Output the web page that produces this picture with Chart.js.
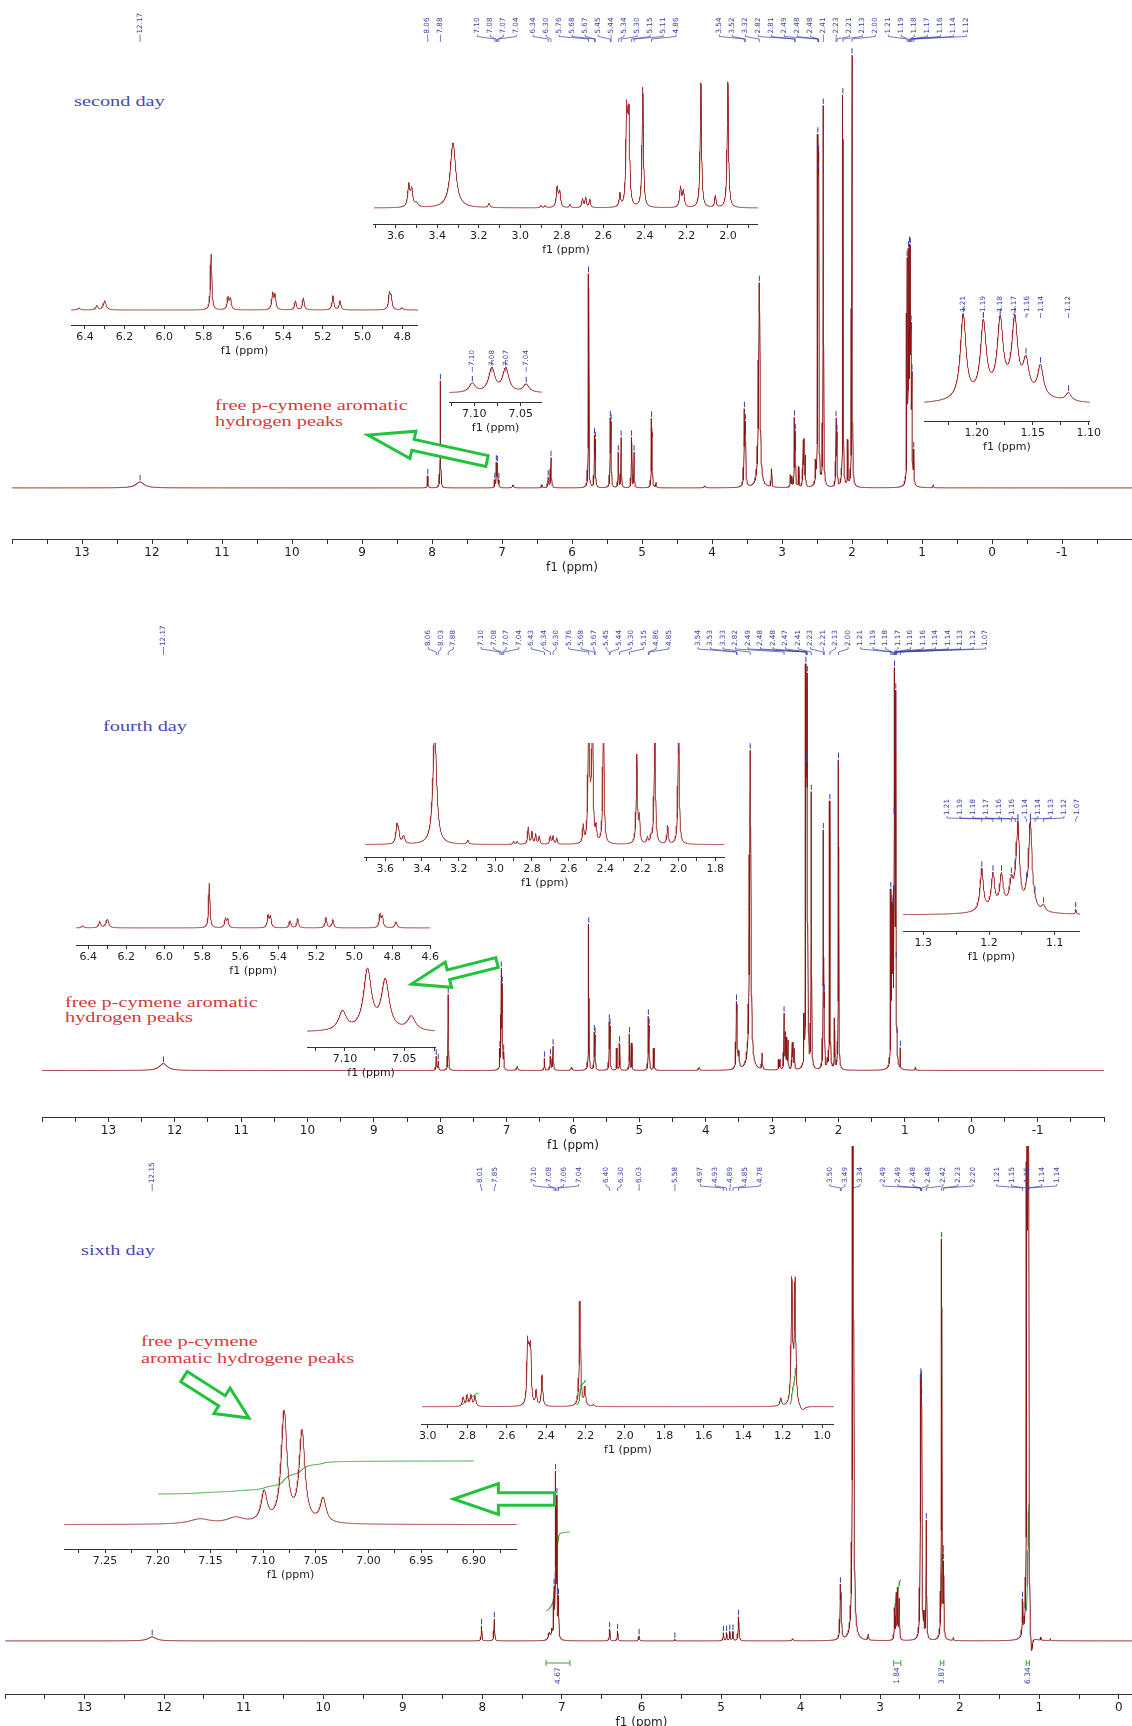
<!DOCTYPE html>
<html lang="en">
<head>
<meta charset="utf-8">
<title>1H NMR – second, fourth and sixth day</title>
<script src="https://cdn.jsdelivr.net/npm/chart.js@4.4.1/dist/chart.umd.min.js"></script>
<style>
  html, body { margin: 0; padding: 0; background: #ffffff; }
  #stage { position: relative; width: 1132px; height: 1726px; overflow: hidden; background: #ffffff; }
  .note { position: absolute; white-space: nowrap; font-family: 'Liberation Serif', 'DejaVu Serif', serif;
          font-size: 14px; line-height: 16px; transform: scaleX(1.45); transform-origin: 0 50%; }
  .day { color: #4848b4; }
  .free { color: #d43a3a; }
</style>
</head>
<body>
<div id="stage">
  <div class="note day" style="left:74px;top:94px">second day</div>
  <div class="note free" style="left:215px;top:398px">free p-cymene aromatic</div>
  <div class="note free" style="left:215px;top:414px">hydrogen peaks</div>
  <div class="note day" style="left:103px;top:719px">fourth day</div>
  <div class="note free" style="left:65px;top:995px">free p-cymene aromatic</div>
  <div class="note free" style="left:65px;top:1010px">hydrogen peaks</div>
  <div class="note day" style="left:81px;top:1243px">sixth day</div>
  <div class="note free" style="left:141px;top:1334px">free p-cymene</div>
  <div class="note free" style="left:141px;top:1351px">aromatic hydrogene peaks</div>
</div>
<script>
// ---------------------------------------------------------------------------
// Peak tables: [shift (ppm), intensity, half-width (ppm), picked label 1/0]
// ---------------------------------------------------------------------------

// second day – full spectrum
const day2Peaks = [
  [12.17, 6, 0.07, 1], [8.06, 12, 0.005, 1], [7.88, 107, 0.004, 1],
  [7.102, 7, 0.004, 1], [7.081, 24, 0.004, 1], [7.066, 23, 0.004, 1], [7.044, 7, 0.004, 1],
  [6.84, 3, 0.01, 0], [6.43, 3, 0.006, 0], [6.34, 10, 0.006, 1], [6.30, 30, 0.006, 1],
  [5.763, 214, 0.004, 1], [5.678, 48, 0.004, 1], [5.666, 44, 0.004, 1],
  [5.453, 64, 0.004, 1], [5.441, 60, 0.004, 1], [5.338, 35, 0.004, 1], [5.298, 50, 0.004, 1],
  [5.149, 50, 0.004, 1], [5.113, 35, 0.004, 1], [4.864, 62, 0.004, 1], [4.855, 45, 0.004, 0],
  [4.80, 5, 0.005, 0], [4.10, 2, 0.01, 0],
  [3.537, 70, 0.006, 1], [3.523, 55, 0.006, 1], [3.324, 205, 0.012, 1], [3.15, 18, 0.005, 0],
  [2.88, 12, 0.004, 0], [2.86, 10, 0.004, 0], [2.822, 65, 0.004, 1], [2.810, 50, 0.004, 1],
  [2.76, 20, 0.004, 0], [2.70, 40, 0.004, 0], [2.685, 45, 0.004, 0], [2.665, 30, 0.004, 0],
  [2.52, 20, 0.004, 0], [2.488, 280, 0.004, 1], [2.482, 150, 0.004, 1], [2.476, 260, 0.004, 1],
  [2.41, 380, 0.004, 1], [2.228, 65, 0.004, 1], [2.214, 50, 0.004, 1], [2.13, 392, 0.004, 1],
  [2.06, 45, 0.004, 0], [2.00, 432, 0.004, 1],
  [1.212, 215, 0.004, 1], [1.194, 210, 0.004, 1], [1.179, 205, 0.004, 1], [1.166, 200, 0.004, 1],
  [1.156, 120, 0.004, 1], [1.143, 95, 0.004, 1], [1.118, 32, 0.004, 1], [0.84, 3, 0.005, 0]
];
// second day – expansions
const day2Aliphatic = [
  [3.537, 22, 0.006, 0], [3.523, 17, 0.006, 0], [3.50, 4, 0.01, 0], [3.324, 65, 0.016, 0],
  [3.15, 4, 0.005, 0], [2.90, 2, 0.004, 0], [2.88, 2, 0.004, 0],
  [2.822, 20, 0.005, 0], [2.810, 15, 0.005, 0], [2.76, 3, 0.004, 0], [2.70, 9, 0.004, 0],
  [2.685, 10, 0.004, 0], [2.665, 8, 0.004, 0], [2.52, 13, 0.004, 0],
  [2.488, 85, 0.004, 0], [2.482, 45, 0.004, 0], [2.476, 80, 0.004, 0], [2.41, 120, 0.004, 0],
  [2.228, 20, 0.005, 0], [2.214, 16, 0.005, 0], [2.13, 125, 0.004, 0], [2.06, 12, 0.004, 0],
  [2.00, 126, 0.004, 0]
];
const day2Olefinic = [
  [6.43, 2, 0.006, 0], [6.34, 4, 0.006, 0], [6.30, 9, 0.008, 0], [5.763, 56, 0.004, 0],
  [5.678, 12, 0.005, 0], [5.666, 11, 0.005, 0], [5.453, 16, 0.005, 0], [5.441, 14, 0.005, 0],
  [5.338, 9, 0.005, 0], [5.298, 12, 0.005, 0], [5.149, 14, 0.005, 0], [5.113, 9, 0.005, 0],
  [4.864, 16, 0.005, 0], [4.855, 12, 0.005, 0], [4.80, 2, 0.006, 0]
];
const day2Aromatic = [
  [7.102, 9, 0.004, 1], [7.081, 24, 0.004, 1], [7.066, 24, 0.004, 1], [7.044, 8, 0.004, 1]
];
const day2Methyl = [
  [1.212, 84, 0.003, 1], [1.194, 72, 0.003, 1], [1.179, 70, 0.003, 1], [1.166, 70, 0.003, 1],
  [1.156, 30, 0.003, 1], [1.143, 30, 0.003, 1], [1.118, 8, 0.003, 1], [1.17, 13, 0.03, 0]
];

// fourth day – full spectrum
const day4Peaks = [
  [12.17, 7, 0.07, 1], [8.06, 14, 0.005, 1], [8.03, 9, 0.005, 1], [7.88, 76, 0.004, 1],
  [7.102, 18, 0.004, 1], [7.081, 96, 0.004, 1], [7.066, 80, 0.004, 1], [7.044, 15, 0.004, 1],
  [6.84, 4, 0.01, 0], [6.43, 12, 0.005, 1], [6.34, 14, 0.006, 1], [6.30, 24, 0.006, 1],
  [6.02, 3, 0.01, 0], [5.763, 146, 0.004, 1], [5.678, 35, 0.004, 1], [5.666, 32, 0.004, 1],
  [5.453, 45, 0.004, 1], [5.441, 40, 0.004, 1], [5.338, 22, 0.004, 0], [5.298, 27, 0.004, 1],
  [5.149, 36, 0.004, 1], [5.113, 27, 0.004, 0], [4.864, 50, 0.004, 1], [4.852, 40, 0.004, 1],
  [4.78, 22, 0.005, 0], [4.10, 3, 0.01, 0],
  [3.537, 55, 0.006, 1], [3.528, 40, 0.006, 1], [3.50, 15, 0.008, 0], [3.33, 320, 0.012, 1],
  [3.15, 16, 0.005, 0], [2.90, 10, 0.004, 0], [2.88, 10, 0.004, 0],
  [2.82, 55, 0.004, 1], [2.80, 35, 0.004, 0], [2.78, 30, 0.004, 0], [2.76, 28, 0.004, 0],
  [2.70, 25, 0.004, 0], [2.685, 25, 0.004, 0], [2.665, 20, 0.004, 0], [2.52, 45, 0.004, 0],
  [2.491, 350, 0.004, 1], [2.483, 150, 0.004, 1], [2.478, 150, 0.004, 1], [2.470, 340, 0.004, 1],
  [2.45, 14, 0.004, 0], [2.41, 275, 0.004, 1], [2.228, 235, 0.004, 1], [2.214, 60, 0.004, 1],
  [2.17, 8, 0.004, 0], [2.15, 8, 0.004, 0], [2.13, 268, 0.004, 1], [2.06, 50, 0.004, 0],
  [2.00, 310, 0.004, 1],
  [1.211, 168, 0.004, 1], [1.194, 140, 0.004, 1], [1.181, 130, 0.004, 1], [1.166, 100, 0.004, 1],
  [1.160, 30, 0.004, 1], [1.156, 350, 0.004, 1], [1.143, 40, 0.004, 1], [1.137, 345, 0.004, 1],
  [1.130, 10, 0.004, 1], [1.117, 15, 0.004, 1], [1.068, 20, 0.001, 1], [0.84, 3, 0.005, 0]
];
// fourth day – expansions
const day4Aliphatic = [
  [3.537, 17, 0.006, 0], [3.528, 12, 0.006, 0], [3.50, 8, 0.008, 0], [3.33, 115, 0.012, 0],
  [3.15, 4, 0.005, 0], [2.90, 3, 0.004, 0], [2.88, 3, 0.004, 0],
  [2.82, 17, 0.004, 0], [2.80, 12, 0.004, 0], [2.78, 10, 0.004, 0], [2.76, 8, 0.004, 0],
  [2.70, 8, 0.004, 0], [2.685, 8, 0.004, 0], [2.665, 6, 0.004, 0], [2.52, 17, 0.004, 0],
  [2.491, 130, 0.004, 0], [2.483, 20, 0.004, 0], [2.478, 20, 0.004, 0], [2.470, 130, 0.004, 0],
  [2.45, 14, 0.004, 0], [2.41, 130, 0.004, 0], [2.228, 88, 0.004, 0], [2.214, 25, 0.004, 0],
  [2.17, 6, 0.004, 0], [2.15, 6, 0.004, 0], [2.13, 130, 0.004, 0], [2.06, 18, 0.004, 0],
  [2.00, 130, 0.004, 0]
];
const day4Olefinic = [
  [6.43, 2, 0.006, 0], [6.34, 6, 0.006, 0], [6.30, 8.5, 0.008, 0], [5.763, 44.6, 0.004, 0],
  [5.678, 9, 0.005, 0], [5.666, 8, 0.005, 0], [5.453, 12, 0.005, 0], [5.441, 11, 0.005, 0],
  [5.338, 7, 0.005, 0], [5.298, 9, 0.005, 0], [5.149, 10, 0.005, 0], [5.113, 8, 0.005, 0],
  [4.864, 13, 0.005, 0], [4.852, 11, 0.005, 0], [4.78, 6, 0.006, 0]
];
const day4Aromatic = [
  [7.102, 19, 0.004, 0], [7.081, 60, 0.004, 0], [7.066, 49, 0.004, 0], [7.044, 14, 0.004, 0]
];
const day4Methyl = [
  [1.211, 42, 0.003, 1], [1.194, 34, 0.003, 1], [1.181, 31, 0.003, 1], [1.166, 22, 0.003, 1],
  [1.160, 6, 0.003, 1], [1.156, 80, 0.003, 1], [1.143, 8, 0.003, 1], [1.137, 86, 0.003, 1],
  [1.130, 3, 0.003, 1], [1.117, 6, 0.003, 1], [1.068, 5, 0.0008, 1], [1.17, 8, 0.03, 0]
];

// sixth day – full spectrum
const day6Peaks = [
  [12.15, 4, 0.06, 1], [8.01, 15, 0.005, 1], [7.85, 22, 0.005, 1],
  [7.16, 7, 0.012, 0], [7.126, 9, 0.01, 0],
  [7.099, 45, 0.004, 1], [7.080, 160, 0.004, 1], [7.063, 135, 0.004, 1], [7.043, 38, 0.004, 1],
  [6.40, 12, 0.005, 1], [6.30, 10, 0.005, 1], [6.03, 5, 0.006, 1], [5.58, 1.5, 0.005, 1],
  [4.97, 8, 0.005, 1], [4.93, 8, 0.005, 1], [4.89, 9, 0.005, 1], [4.85, 9, 0.005, 1],
  [4.78, 24, 0.006, 1], [4.10, 2, 0.01, 0],
  [3.50, 48, 0.006, 1], [3.49, 28, 0.006, 1], [3.34, 900, 0.006, 1], [3.15, 6, 0.005, 0],
  [2.82, 30, 0.004, 0], [2.80, 45, 0.004, 0], [2.78, 50, 0.004, 0], [2.76, 40, 0.004, 0],
  [2.494, 195, 0.004, 1], [2.488, 120, 0.004, 1], [2.484, 120, 0.004, 1], [2.478, 180, 0.004, 1],
  [2.45, 20, 0.004, 0], [2.42, 118, 0.004, 1], [2.228, 400, 0.004, 1], [2.203, 70, 0.004, 1],
  [2.08, 3, 0.004, 0], [1.21, 35, 0.005, 1],
  [1.154, 900, 0.004, 1], [1.148, 60, 0.004, 1], [1.143, 60, 0.004, 1], [1.137, 900, 0.004, 1],
  [1.10, -25, 0.015, 0], [0.98, 3, 0.003, 0], [0.86, 2, 0.003, 0]
];
// sixth day – expansions
const day6Aliphatic = [
  [2.82, 9, 0.005, 0], [2.80, 11, 0.005, 0], [2.78, 11, 0.005, 0], [2.76, 10, 0.005, 0],
  [2.494, 55, 0.004, 0], [2.488, 27, 0.004, 0], [2.484, 27, 0.004, 0], [2.478, 50, 0.004, 0],
  [2.45, 15, 0.004, 0], [2.42, 31, 0.004, 0], [2.228, 105, 0.004, 0], [2.203, 18, 0.004, 0],
  [2.16, 2, 0.004, 0], [1.21, 8, 0.005, 0],
  [1.154, 120, 0.004, 0], [1.148, 10, 0.004, 0], [1.143, 10, 0.004, 0], [1.137, 120, 0.004, 0],
  [1.10, -5, 0.015, 0]
];
const day6Aromatic = [
  [7.16, 5, 0.012, 0], [7.126, 6, 0.01, 0], [7.099, 30, 0.0033, 0], [7.080, 110, 0.0033, 0],
  [7.063, 90, 0.0033, 0], [7.043, 24, 0.0033, 0]
];
// integration regions: [from ppm, to ppm, integral]
const day6Integrals = [[7.20, 6.90, 4.67], [2.83, 2.74, 1.84], [2.245, 2.20, 3.87], [1.165, 1.125, 6.34]];

// ---------------------------------------------------------------------------
// drawing helpers
// ---------------------------------------------------------------------------
const FONT = "'DejaVu Sans', 'Liberation Sans', sans-serif";
const BLUE = '#3b3fa3';
const MAIN_RED = '#8a1616';
const INSET_RED = '#a03030';
const ARROW_GREEN = '#23c23c';
const INTEGRAL_GREEN = '#3aa53a';
const stage = document.getElementById('stage');

// edge: whether a labelled tick sitting exactly on an axis end keeps its label
const MAIN_AXIS = { step: 0.5, major: 1, dec: 0, font: 12, tickLen: 5, edge: false };
const TENTH_AXIS = { step: 0.1, major: 0.2, dec: 1, font: 11, tickLen: 4, edge: true };
const FINE_AXIS = { step: 0.025, major: 0.05, dec: 2, font: 11, tickLen: 4, edge: true };
const HALF_TENTH_AXIS = { step: 0.05, major: 0.1, dec: 1, font: 11, tickLen: 4, edge: true };

function lineShape(peaks, x) {
  let s = 0;
  for (const [p, h, w] of peaks) { const d = x - p; s += h * w * w / (d * d + w * w); }
  return s;
}

function sampleSpectrum(peaks, xMin, xMax, n) {
  const xs = [];
  for (let i = 0; i <= n; i++) xs.push(xMin + (xMax - xMin) * i / n);
  peaks.forEach(p => { if (p[0] > xMin && p[0] < xMax) xs.push(p[0]); });
  xs.sort((a, b) => a - b);
  const pts = [];
  xs.forEach(x => { if (!pts.length || x - pts[pts.length - 1].x > 1e-9) pts.push({ x, y: lineShape(peaks, x) }); });
  return pts;
}

// running integral over a region, accumulated from high to low shift
function integralCurve(pts, from, to, value, k, offset) {
  const seg = pts.filter(p => p.x <= from && p.x >= to).sort((a, b) => b.x - a.x);
  const cum = [0];
  for (let i = 1; i < seg.length; i++) {
    cum.push(cum[i - 1] + (seg[i - 1].y + seg[i].y) / 2 * (seg[i - 1].x - seg[i].x));
  }
  const total = cum[cum.length - 1] || 1;
  return seg.map((p, i) => ({ x: p.x, y: offset + value * k * cum[i] / total })).sort((a, b) => a.x - b.x);
}

// tick values in the order a reversed axis lays them out (high shift first)
function tickValues(xMin, xMax, step) {
  const out = [];
  const k0 = Math.ceil(xMin / step - 1e-9), k1 = Math.floor(xMax / step + 1e-9);
  for (let k = k1; k >= k0; k--) out.push(+(k * step).toFixed(6));
  return out;
}

// spread picked-peak labels so they never overlap, keeping groups centred on their
// peaks and inside [lo, hi]
function layoutLabels(desired, gap, lo, hi) {
  let clusters = desired.map(x => ({ sum: x, n: 1 }));
  const start = c => {
    const s = c.sum / c.n - gap * (c.n - 1) / 2;
    return Math.min(Math.max(s, lo), hi - gap * (c.n - 1));
  };
  let merged = true;
  while (merged) {
    merged = false;
    for (let i = 0; i < clusters.length - 1; i++) {
      const a = clusters[i], b = clusters[i + 1];
      if (start(b) - (start(a) + gap * (a.n - 1)) < gap) {
        clusters.splice(i, 2, { sum: a.sum + b.sum, n: a.n + b.n });
        merged = true;
        break;
      }
    }
  }
  const out = [];
  clusters.forEach(c => { const s = start(c); for (let k = 0; k < c.n; k++) out.push(s + k * gap); });
  return out;
}

function hollowArrow(ctx, tail, tip, shaft, head, headLen) {
  const dx = tip[0] - tail[0], dy = tip[1] - tail[1], len = Math.hypot(dx, dy);
  const ux = dx / len, uy = dy / len, nx = -uy, ny = ux;
  const bx = tip[0] - ux * headLen, by = tip[1] - uy * headLen;
  const pts = [
    [tail[0] + nx * shaft, tail[1] + ny * shaft], [bx + nx * shaft, by + ny * shaft],
    [bx + nx * head, by + ny * head], tip, [bx - nx * head, by - ny * head],
    [bx - nx * shaft, by - ny * shaft], [tail[0] - nx * shaft, tail[1] - ny * shaft]
  ];
  ctx.beginPath();
  pts.forEach((p, i) => i ? ctx.lineTo(p[0], p[1]) : ctx.moveTo(p[0], p[1]));
  ctx.closePath();
  ctx.fillStyle = '#ffffff';
  ctx.fill();
  ctx.strokeStyle = ARROW_GREEN;
  ctx.lineWidth = 3;
  ctx.lineJoin = 'miter';
  ctx.stroke();
}

function drawPeakLabels(ctx, chart, spec, px, py, org) {
  const L = spec.labels;
  const items = spec.peaks.filter(p => p[3] === 1)
    .map(p => ({ ppm: p[0], x: px(p[0]) }))
    .sort((a, b) => a.x - b.x);
  const lo = L.lo !== undefined ? L.lo : -Infinity;
  const hi = L.hi !== undefined ? L.hi : Infinity;
  const pos = layoutLabels(items.map(i => i.x), L.gap, lo, hi);
  ctx.font = '7.2px ' + FONT;
  ctx.fillStyle = BLUE;
  ctx.strokeStyle = BLUE;
  ctx.lineWidth = 0.7;
  ctx.textBaseline = 'middle';
  ctx.textAlign = 'left';
  items.forEach((it, i) => {
    const lx = pos[i];
    ctx.save();
    ctx.translate(lx, L.bottom);
    ctx.rotate(-Math.PI / 2);
    ctx.fillText(it.ppm.toFixed(2), 0, 0);
    ctx.restore();
    ctx.beginPath();
    ctx.moveTo(lx, L.bottom + 1);
    ctx.lineTo(lx, L.bottom + 3);
    ctx.lineTo(it.x, L.end - 3);
    ctx.lineTo(it.x, L.end);
    ctx.stroke();
  });
  const areaTop = org.y + chart.chartArea.top;
  ctx.lineWidth = 1;
  items.forEach(it => {
    const y = py(lineShape(spec.peaks, it.ppm));
    if (y > areaTop + 9) {
      ctx.beginPath();
      ctx.moveTo(it.x, y - 1.5);
      ctx.lineTo(it.x, y - 7);
      ctx.stroke();
    }
  });
}

function makeConfig(spec, org) {
  const ax = spec.axis;
  const n = Math.round((spec.right - spec.left) * 3);
  const pts = sampleSpectrum(spec.peaks, spec.xMin, spec.xMax, n);
  const datasets = [{
    data: pts, borderColor: spec.color, borderWidth: 1, pointRadius: 0, fill: false, tension: 0
  }];
  if (spec.integrals) {
    spec.integrals.list.forEach(([from, to, val]) => {
      if (from > spec.xMax || to < spec.xMin) return;
      datasets.push({
        data: integralCurve(pts, from, to, val, spec.integrals.k, spec.integrals.offset),
        borderColor: INTEGRAL_GREEN, borderWidth: 1, pointRadius: 0, fill: false, tension: 0
      });
    });
  }
  const ticks = tickValues(spec.xMin, spec.xMax, ax.step);
  const isMajor = v => Math.abs(v / ax.major - Math.round(v / ax.major)) < 1e-6;
  const atEdge = v => Math.abs(v - spec.xMin) < 1e-6 || Math.abs(v - spec.xMax) < 1e-6;
  return {
    type: 'line',
    data: { datasets },
    options: {
      responsive: false, maintainAspectRatio: false, animation: false, devicePixelRatio: 1,
      events: [], parsing: false,
      layout: { padding: 0, autoPadding: false },
      plugins: { legend: { display: false }, tooltip: { enabled: false } },
      scales: {
        x: {
          type: 'linear', reverse: true, min: spec.xMin, max: spec.xMax,
          afterBuildTicks: s => { s.ticks = ticks.map(v => ({ value: v })); },
          ticks: {
            autoSkip: false, maxRotation: 0, minRotation: 0, padding: 3, color: '#1e1e1e',
            font: { family: FONT, size: ax.font, lineHeight: 1 },
            callback: v => (isMajor(v) && (ax.edge || !atEdge(v))) ? v.toFixed(ax.dec) : ''
          },
          grid: { display: true, drawOnChartArea: false, drawTicks: true, tickLength: ax.tickLen, color: '#333333', lineWidth: 1 },
          border: { display: true, color: '#333333', width: 1 },
          title: { display: true, text: 'f1 (ppm)', color: '#1e1e1e', font: { family: FONT, size: ax.font, lineHeight: 1 }, padding: { top: 0, bottom: 0 } }
        },
        y: { type: 'linear', display: false, min: -50, max: 500 }
      }
    },
    plugins: [{
      id: 'nmrMarks',
      afterDatasetsDraw(chart) {
        const ctx = chart.ctx, xs = chart.scales.x, ys = chart.scales.y;
        const px = v => org.x + xs.getPixelForValue(v);
        const py = v => org.y + ys.getPixelForValue(v);
        ctx.save();
        ctx.translate(-org.x, -org.y);
        if (spec.labels) drawPeakLabels(ctx, chart, spec, px, py, org);
        if (spec.extras) spec.extras(ctx, px, py);
        ctx.restore();
      }
    }]
  };
}

// mount a spectrum so that its axis spans [left, right] and its axis line sits at axisY
function mount(spec) {
  let W = Math.round(spec.right - spec.left);
  let H = Math.round(spec.axisY - spec.top + 34);
  let left = Math.round(spec.left);
  let chart, cv;
  const org = { x: left, y: spec.top };
  for (let pass = 0; pass < 2; pass++) {
    cv = document.createElement('canvas');
    cv.width = W; cv.height = H;
    Object.assign(cv.style, { position: 'absolute', left: left + 'px', top: Math.round(spec.top) + 'px' });
    stage.appendChild(cv);
    org.x = left; org.y = Math.round(spec.top);
    chart = new Chart(cv, makeConfig(spec, org));
    if (pass === 0) {
      const xs = chart.scales.x;
      const pl = xs.getPixelForValue(spec.xMax), pr = xs.getPixelForValue(spec.xMin);
      const axisH = H - chart.chartArea.bottom;
      W = Math.round(W + (spec.right - spec.left) - (pr - pl));
      left = Math.round(spec.left - pl);
      H = Math.round(spec.axisY - spec.top + axisH);
      chart.destroy();
      cv.remove();
    }
  }
  const ca = chart.chartArea;
  org.x = left;
  org.y = Math.round(spec.axisY - ca.bottom);
  cv.style.top = org.y + 'px';
  const yMin = -(spec.axisY - spec.baseY);
  chart.options.scales.y.min = yMin;
  chart.options.scales.y.max = yMin + (ca.bottom - ca.top);
  chart.update('none');
  return chart;
}

// ---------------------------------------------------------------------------
// second day
// ---------------------------------------------------------------------------
mount({ peaks: day2Peaks, left: 11.6, right: 1131.6, xMax: 14, xMin: -2, top: 0, axisY: 538.6, baseY: 487.5,
  axis: MAIN_AXIS, color: MAIN_RED, labels: { bottom: 33.5, end: 42, gap: 13 },
  extras: ctx => hollowArrow(ctx, [487, 461], [368, 435], 5.5, 14, 46) });
mount({ peaks: day2Aliphatic, left: 374, right: 758, xMax: 3.705, xMin: 1.855, top: 70, axisY: 224, baseY: 208,
  axis: TENTH_AXIS, color: INSET_RED });
mount({ peaks: day2Olefinic, left: 70.8, right: 417.3, xMax: 6.47, xMin: 4.72, top: 240, axisY: 325, baseY: 310,
  axis: TENTH_AXIS, color: INSET_RED });
mount({ peaks: day2Aromatic, left: 449, right: 541.5, xMax: 7.127, xMin: 7.027, top: 345, axisY: 402, baseY: 393,
  axis: FINE_AXIS, color: INSET_RED, labels: { bottom: 366, end: 372, gap: 14, lo: 452, hi: 538 } });
mount({ peaks: day2Methyl, left: 924, right: 1090, xMax: 1.247, xMin: 1.099, top: 292, axisY: 421, baseY: 405,
  axis: FINE_AXIS, color: INSET_RED, labels: { bottom: 312, end: 318, gap: 13.5, lo: 928, hi: 1086 } });

// ---------------------------------------------------------------------------
// fourth day
// ---------------------------------------------------------------------------
mount({ peaks: day4Peaks, left: 42, right: 1104, xMax: 14, xMin: -2, top: 600, axisY: 1117, baseY: 1070.5,
  axis: MAIN_AXIS, color: MAIN_RED, labels: { bottom: 646, end: 655, gap: 12.5 },
  extras: ctx => hollowArrow(ctx, [497, 962.5], [411.5, 984], 5, 13, 38) });
mount({ peaks: day4Aliphatic, left: 364.6, right: 724.2, xMax: 3.711, xMin: 1.75, top: 742.6, axisY: 857, baseY: 844.6,
  axis: TENTH_AXIS, color: INSET_RED });
mount({ peaks: day4Olefinic, left: 75.8, right: 429.6, xMax: 6.465, xMin: 4.6, top: 865, axisY: 944.6, baseY: 927.5,
  axis: TENTH_AXIS, color: INSET_RED });
mount({ peaks: day4Aromatic, left: 307, right: 435.4, xMax: 7.132, xMin: 7.024, top: 955, axisY: 1047, baseY: 1032,
  axis: FINE_AXIS, color: INSET_RED });
mount({ peaks: day4Methyl, left: 903, right: 1080, xMax: 1.331, xMin: 1.0615, top: 790, axisY: 931, baseY: 915,
  axis: HALF_TENTH_AXIS, color: INSET_RED, labels: { bottom: 815, end: 822, gap: 13, lo: 907, hi: 1077 } });

// ---------------------------------------------------------------------------
// sixth day
// ---------------------------------------------------------------------------
mount({ peaks: day6Peaks, left: 4.9, right: 1278.2, xMax: 14, xMin: -2, top: 1146, axisY: 1694.3, baseY: 1641.2,
  axis: MAIN_AXIS, color: MAIN_RED, labels: { bottom: 1183, end: 1191, gap: 15 },
  integrals: { list: day6Integrals, k: 16.9, offset: 30 },
  extras: (ctx, px) => {
    hollowArrow(ctx, [184, 1376.6], [249, 1418], 6, 15, 32);
    hollowArrow(ctx, [554.5, 1499], [453.4, 1499], 6.3, 15.5, 45);
    ctx.font = '7.5px ' + FONT;
    ctx.textBaseline = 'middle';
    ctx.textAlign = 'left';
    day6Integrals.forEach(([from, to, val]) => {
      const a = px(from), b = px(to), m = (a + b) / 2;
      ctx.strokeStyle = INTEGRAL_GREEN;
      ctx.lineWidth = 1;
      ctx.beginPath();
      ctx.moveTo(a, 1660); ctx.lineTo(a, 1666);
      ctx.moveTo(a, 1663); ctx.lineTo(b, 1663);
      ctx.moveTo(b, 1660); ctx.lineTo(b, 1666);
      ctx.stroke();
      ctx.fillStyle = BLUE;
      ctx.save();
      ctx.translate(m, 1684);
      ctx.rotate(-Math.PI / 2);
      ctx.fillText(val.toFixed(2), 0, 0);
      ctx.restore();
    });
  } });
mount({ peaks: day6Aliphatic, left: 422.4, right: 834, xMax: 3.03, xMin: 0.94, top: 1262, axisY: 1423.5, baseY: 1406.2,
  axis: TENTH_AXIS, color: INSET_RED, integrals: { list: day6Integrals, k: 6.3, offset: 2 } });
mount({ peaks: day6Aromatic, left: 63.5, right: 516.2, xMax: 7.289, xMin: 6.859, top: 1395, axisY: 1549, baseY: 1524.6,
  axis: FINE_AXIS, color: INSET_RED, integrals: { list: [day6Integrals[0]], k: 7.07, offset: 30.6 } });
</script>
</body>
</html>
